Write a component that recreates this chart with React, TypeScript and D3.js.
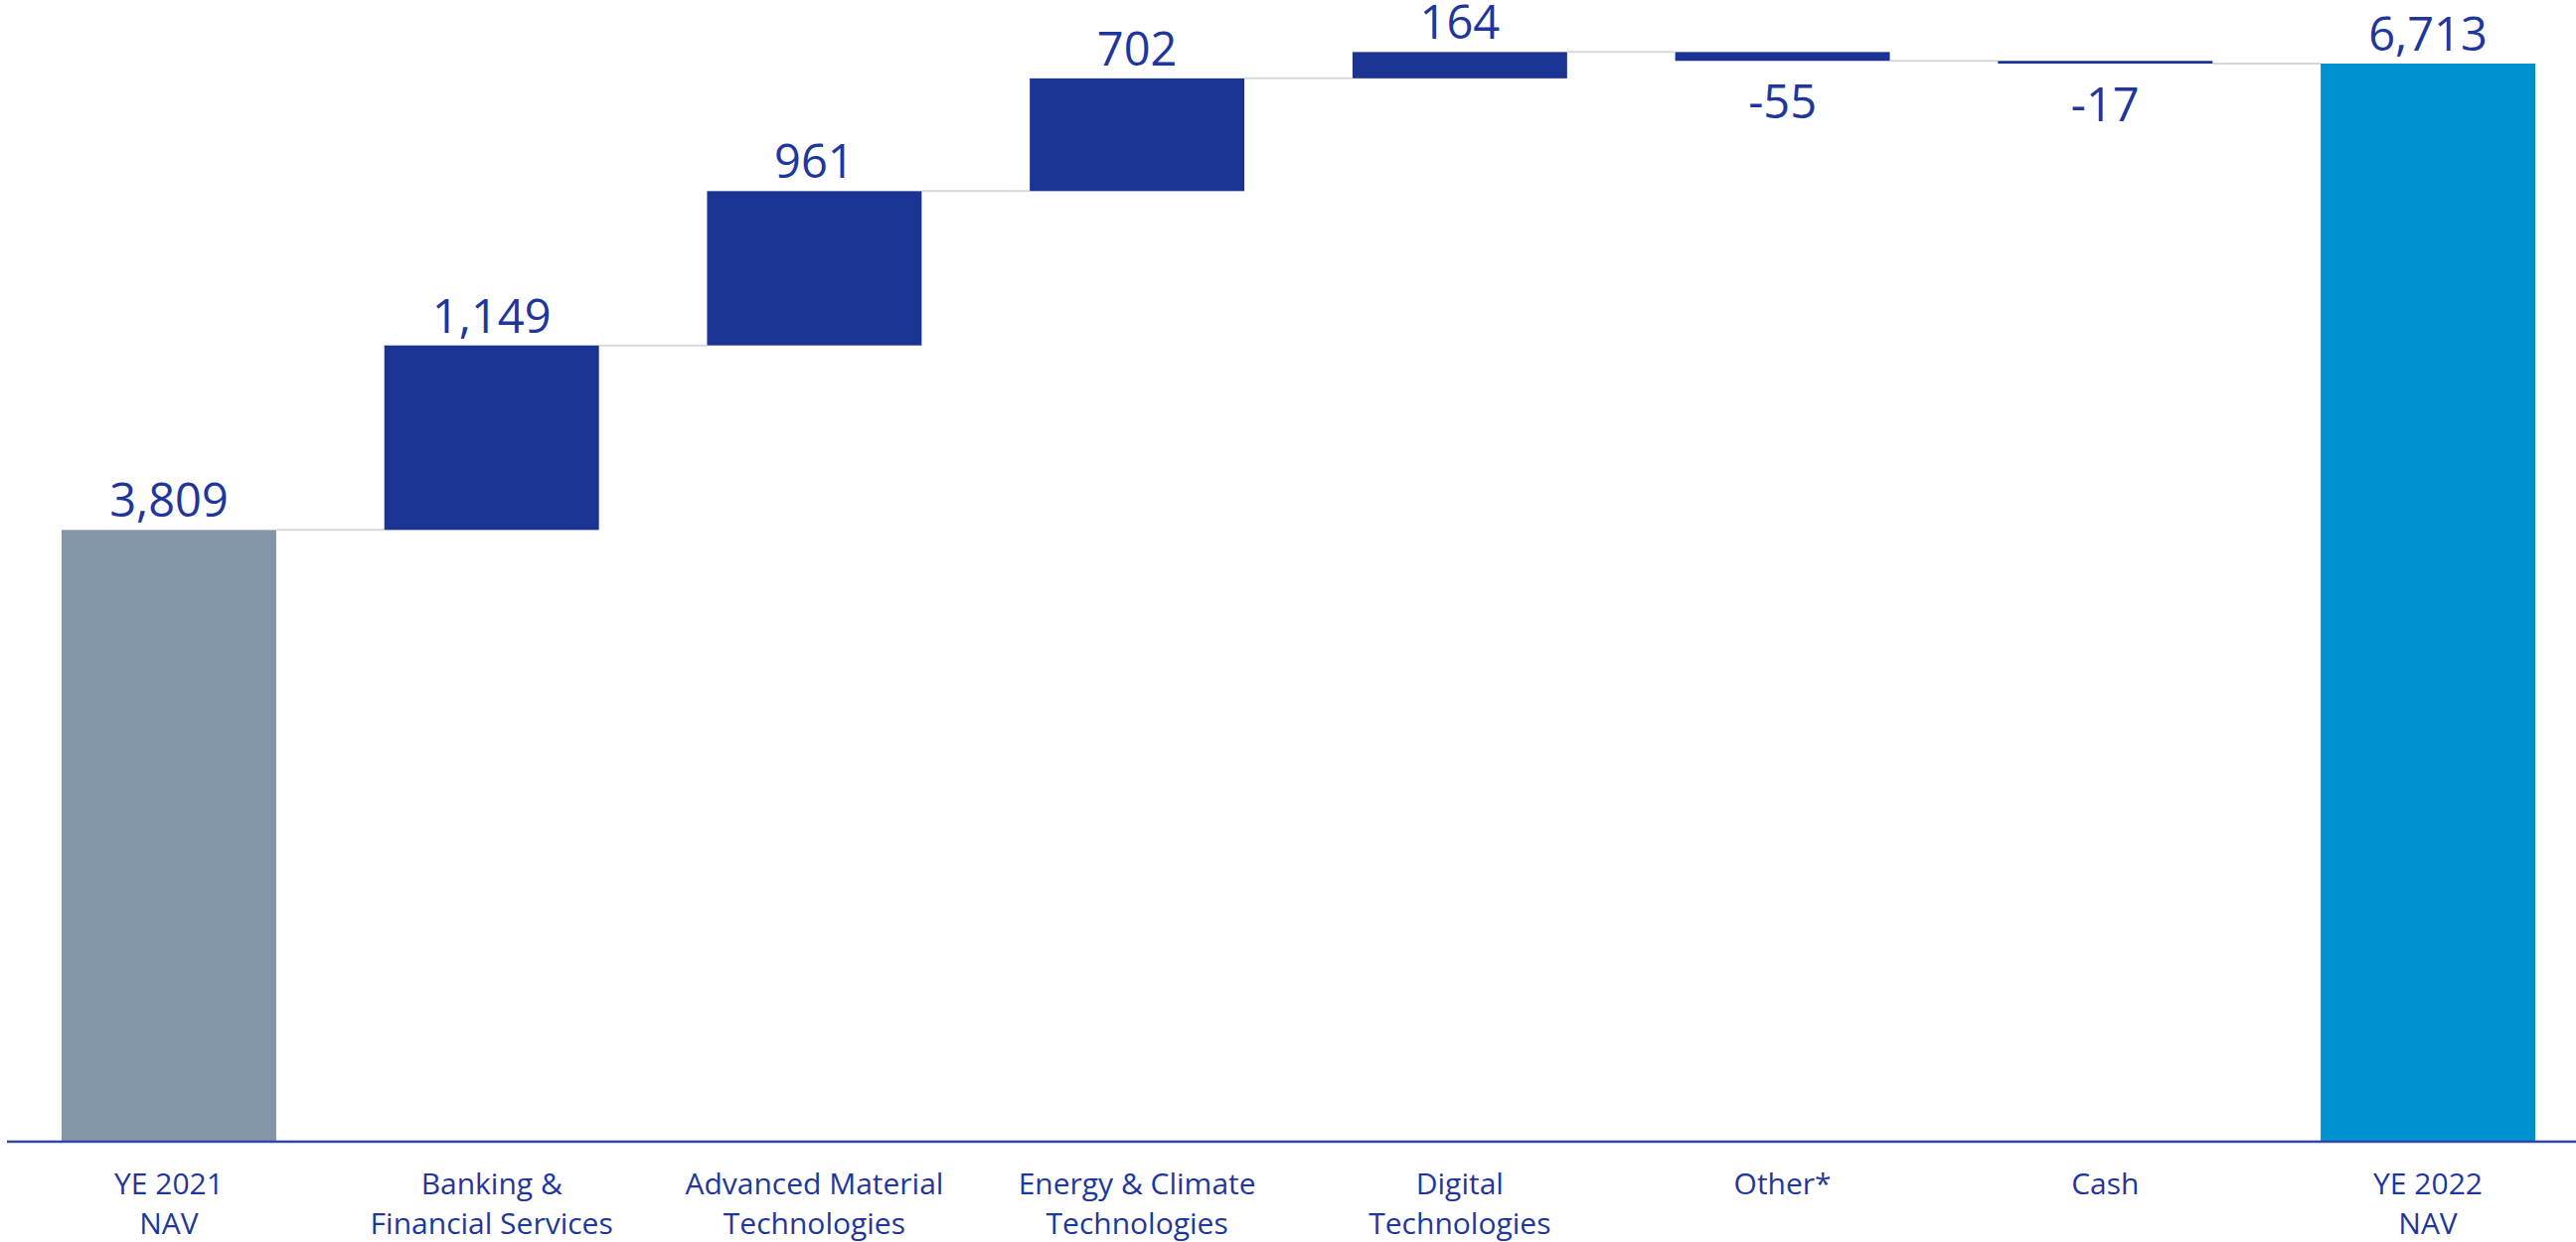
import React from "react";
import * as d3 from "d3";

const categories = ["YE 2021 NAV", "Banking & Financial Services", "Advanced Material Technologies", "Energy & Climate Technologies", "Digital Technologies", "Other*", "Cash", "YE 2022 NAV"];
const categoryLines = [["YE 2021", "NAV"], ["Banking &", "Financial Services"], ["Advanced Material", "Technologies"], ["Energy & Climate", "Technologies"], ["Digital", "Technologies"], ["Other*"], ["Cash"], ["YE 2022", "NAV"]];
const values = [3809, 1149, 961, 702, 164, -55, -17, 6713];
const kinds = ["total", "delta", "delta", "delta", "delta", "delta", "delta", "total"];
const valueLabels = ["3,809", "1,149", "961", "702", "164", "-55", "-17", "6,713"];

const W = 2592;
const H = 1250;
const FONT = "'Open Sans', 'Noto Sans', sans-serif";
const TEXT = "#1f379c";

export default function App() {
  const x = d3.scaleBand<string>().domain(categories).range([62, 2551]).paddingInner(0.335).paddingOuter(0);
  const y = d3.scaleLinear().domain([0, 6713]).range([1149, 64]);

  let run = 0;
  const bars = values.map((v, i) => {
    let y0: number, y1: number;
    if (kinds[i] === "total") {
      y0 = 0;
      y1 = v;
      run = v;
    } else {
      y0 = run;
      y1 = run + v;
      run = y1;
    }
    return { cat: categories[i], v, y0, y1, end: run, i };
  });

  const fillFor = (i: number) => (i === 0 ? "#8496aa" : i === values.length - 1 ? "#0092d0" : "#1b3494");

  return (
    <svg width={W} height={H} style={{ position: "absolute", left: 0, top: 0, background: "#fff" }}>
      {bars.slice(0, -1).map((b, i) => {
        const xs = (x(b.cat) as number) + x.bandwidth();
        const xe = x(categories[i + 1]) as number;
        return <line key={"c" + i} x1={xs} x2={xe} y1={y(b.end)} y2={y(b.end)} stroke="#d9d9d9" strokeWidth={2} />;
      })}
      {bars.map((b) => {
        const top = Math.max(b.y0, b.y1);
        const bot = Math.min(b.y0, b.y1);
        return (
          <rect key={"b" + b.i} x={x(b.cat)} y={y(top)} width={x.bandwidth()} height={Math.max(1.5, y(bot) - y(top))} fill={fillFor(b.i)} />
        );
      })}
      {bars.map((b) => {
        const cx = (x(b.cat) as number) + x.bandwidth() / 2;
        const top = Math.max(b.y0, b.y1);
        const bot = Math.min(b.y0, b.y1);
        const neg = b.v < 0;
        const ty = neg ? y(bot) + 58 : y(top) - 13;
        return (
          <text key={"v" + b.i} x={cx} y={ty} textAnchor="middle" fontFamily={FONT} fontSize={47} fill={TEXT}>
            {valueLabels[b.i]}
          </text>
        );
      })}
      <line x1={7} x2={2592} y1={y(0)} y2={y(0)} stroke="#2f46a3" strokeWidth={2.5} />
      {categories.map((c, i) => {
        const cx = (x(c) as number) + x.bandwidth() / 2;
        return (
          <text key={"l" + i} x={cx} y={1202} textAnchor="middle" fontFamily={FONT} fontSize={30} fill={TEXT}>
            {categoryLines[i].map((ln, j) => (
              <tspan key={j} x={cx} y={1202 + j * 40}>{ln}</tspan>
            ))}
          </text>
        );
      })}
    </svg>
  );
}
